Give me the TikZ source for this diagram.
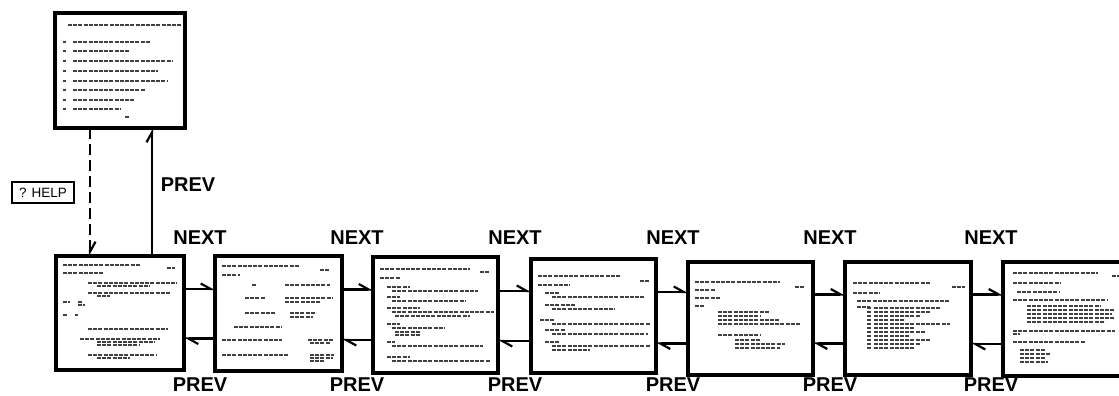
\documentclass[tikz,border=0pt]{standalone}
\usepackage{fontspec}
\setsansfont{Liberation Sans}
\usetikzlibrary{arrows.meta}
\begin{document}
\begin{tikzpicture}[x=1pt,y=-1pt,
  scr/.style={draw, line width=3.2pt, inner sep=0pt, outer sep=0pt, fill=white},
  tl/.style={line width=1.4pt, black!75, dash pattern=on 4pt off 1.2pt},
  conn/.style={line width=2.8pt},
  hp/.style={-{Straight Barb[harpoon,length=10pt,width=11pt,line width=2.2pt]}},
  lab/.style={font=\sffamily\bfseries\fontsize{20}{20}\selectfont, inner sep=0pt}]
\clip (0,0) rectangle (1119,396);
\fill[white] (0,0) rectangle (1119,396);
% screens
\node[scr, minimum width=130pt, minimum height=115pt] (top) at (120,70.5) {};
\node[scr, minimum width=128pt, minimum height=114pt] (b1) at (120,313) {};
\node[scr, minimum width=127pt, minimum height=115pt] (b2) at (278.5,313.5) {};
\node[scr, minimum width=125pt, minimum height=116pt] (b3) at (435.5,315) {};
\node[scr, minimum width=125pt, minimum height=114pt] (b4) at (593.5,316) {};
\node[scr, minimum width=125pt, minimum height=113pt] (b5) at (750.5,318.5) {};
\node[scr, minimum width=126pt, minimum height=113pt] (b6) at (908,318.5) {};
\node[scr, minimum width=130pt, minimum height=114pt] (b7) at (1068,319) {};
\node[draw, line width=1.3pt, minimum width=62pt, minimum height=21pt, inner sep=0pt,
  font=\sffamily\fontsize{13.5}{13.5}\selectfont] (help) at (43,192.5) {? HELP};
% illegible screen text (top menu)
\foreach \y/\a/\b in {25/68/182, 42/73/150, 51/73/130, 61/73/172, 71/73/158, 81/73/167, 90/73/145, 100/73/135, 109/73/120, 117/125/129}
  \draw[tl] (\a,\y) -- (\b,\y);
\foreach \y in {42,51,61,71,81,90,100,109}
  \draw[tl] (63,\y) -- (66,\y);
% screen 1
\foreach \y/\a/\b in {265/63/140, 268/167/175, 273/63/103, 283/88/177, 286/97/150, 293/88/170, 296/97/110,
  302/63/70, 302/78/82, 305/78/85, 315/63/68, 315/75/78, 329/88/168, 339/80/160, 342/97/155, 345/97/140,
  355/88/157, 358/97/130}
  \draw[tl] (\a,\y) -- (\b,\y);
% screen 2
\foreach \y/\a/\b in {266/222/300, 270/320/330, 275/222/240, 285/252/257, 285/285/330, 298/245/265, 298/285/333,
  302/285/320, 313/245/275, 313/290/316, 317/290/313, 327/234/282, 340/222/282, 340/308/333, 343/310/330,
  355/222/288, 355/310/334, 358/310/333, 361/310/325}
  \draw[tl] (\a,\y) -- (\b,\y);
% screen 3
\foreach \y/\a/\b in {269/380/470, 272/480/490, 278/380/400, 287/387/410, 291/392/478, 297/387/400, 301/392/465,
  308/387/420, 312/392/494, 316/395/470, 324/387/400, 328/392/445, 332/395/420, 335/395/420,
  342/387/395, 346/392/483, 357/387/410, 361/392/490}
  \draw[tl] (\a,\y) -- (\b,\y);
% screen 4
\foreach \y/\a/\b in {276/538/620, 281/640/650, 285/538/570, 293/545/560, 297/552/645, 305/545/575, 309/552/615,
  320/540/555, 324/552/650, 330/545/565, 334/552/648, 342/545/560, 346/552/650, 350/552/590}
  \draw[tl] (\a,\y) -- (\b,\y);
% screen 5
\foreach \y/\a/\b in {282/695/780, 287/795/805, 290/695/715, 298/695/720, 306/695/705, 312/718/770, 316/718/760,
  320/718/780, 324/718/800, 335/718/760, 340/735/760, 344/735/785, 348/735/780}
  \draw[tl] (\a,\y) -- (\b,\y);
% screen 6
\foreach \y/\a/\b in {283/853/930, 287/952/965, 293/853/880, 301/857/950, 307/857/870,
  308/874/940, 312/874/930, 316/874/920, 320/874/905, 324/874/950, 328/874/915, 332/874/925,
  336/874/910, 340/874/930, 344/874/920, 348/874/915}
  \draw[tl] (\a,\y) -- (\b,\y);
\foreach \y in {308,312,316,320,324,328,332,336,340,344,348}
  \draw[tl] (867,\y) -- (871,\y);
% screen 7
\foreach \y/\a/\b in {273/1013/1098, 276/1112/1119, 283/1013/1060, 292/1017/1060, 300/1013/1108,
  306/1027/1100, 310/1027/1115, 314/1027/1112, 318/1027/1115, 322/1027/1105,
  331/1013/1115, 334/1013/1020, 342/1013/1085, 350/1020/1045, 354/1020/1050, 358/1020/1045, 362/1020/1048}
  \draw[tl] (\a,\y) -- (\b,\y);
% vertical connectors
\draw[conn, dash pattern=on 11pt off 5pt, hp] ([xshift=-30pt]top.south) -- ([xshift=-30pt]b1.north);
\draw[conn, hp] ([xshift=32pt]b1.north) -- ([xshift=32pt]top.south);
\node[lab] (prevup) at (188,185) {PREV};
% horizontal connectors
\foreach \a/\b in {b1/b2, b2/b3, b3/b4, b4/b5, b5/b6, b6/b7} {
  \draw[conn, hp] ([yshift=24pt]\a.east) -- ([yshift=24pt]\a.east -| \b.west);
  \draw[conn, hp] ([yshift=-25pt]\b.west) -- ([yshift=-25pt]\b.west -| \a.east);
}
\foreach \x [count=\i] in {200,357,515,673,830,991} {
  \node[lab] (next\i) at (\x,238) {NEXT};
  \node[lab] (prev\i) at (\x,385) {PREV};
}
\end{tikzpicture}
\end{document}
